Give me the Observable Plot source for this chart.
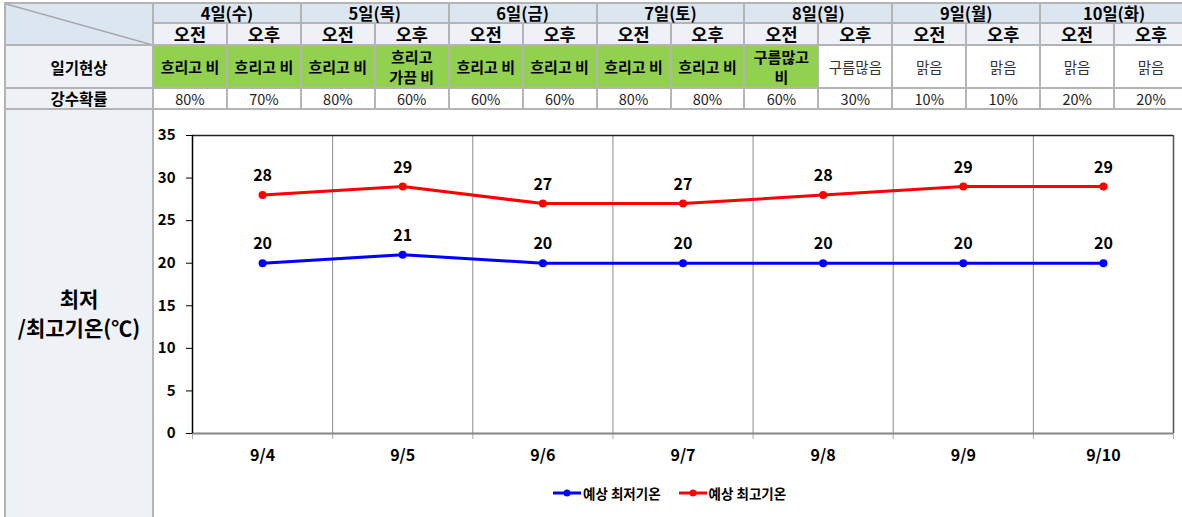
<!DOCTYPE html>
<html><head><meta charset="utf-8">
<script src="https://cdn.jsdelivr.net/npm/d3@7"></script>
<script src="https://cdn.jsdelivr.net/npm/@observablehq/plot@0.6"></script>
<style>
html,body{margin:0;padding:0;background:#fff;width:1182px;height:517px;overflow:hidden;}
body{position:relative;font-family:"Noto Sans CJK KR","Noto Sans",sans-serif;color:#000;}
.c{position:absolute;box-sizing:border-box;display:flex;align-items:center;justify-content:center;text-align:center;border-right:2px solid #b4b4b4;border-bottom:2px solid #b4b4b4;white-space:pre;line-height:20px;}
.c span{display:block;}
#chart{position:absolute;left:153px;top:109px;}
#legend{position:absolute;left:553px;top:483px;display:flex;align-items:center;font-size:13.5px;font-weight:bold;}
#legend span{display:flex;align-items:center;margin-right:18px;}
</style></head><body>
<div id="table"></div>
<div id="chart"></div>
<div id="legend"></div>
<script>
const dates = ["9/4","9/5","9/6","9/7","9/8","9/9","9/10"];
const dayHeaders = ["4일(수)","5일(목)","6일(금)","7일(토)","8일(일)","9일(월)","10일(화)"];
const halfLabels = ["오전","오후"];
const weather = ["흐리고 비","흐리고 비","흐리고 비","흐리고\n가끔 비","흐리고 비","흐리고 비","흐리고 비","흐리고 비","구름많고\n비","구름많음","맑음","맑음","맑음","맑음"];
const rainy = [true,true,true,true,true,true,true,true,true,false,false,false,false,false];
const precip = [80,70,80,60,60,60,80,80,60,30,10,10,20,20];
const rowLabels = ["일기현상","강수확률"];
const chartLabel = "최저\n/최고기온(℃)";
const minTemp = [20,21,20,20,20,20,20];
const maxTemp = [28,29,27,27,28,29,29];
const seriesNames = ["예상 최저기온","예상 최고기온"];
const seriesColors = ["#0000ff","#ff0000"];

// ---- table ----
const T = document.getElementById("table");
const colX = i => 153 + i * 73.93;
const rowsY = [3, 23, 45, 88, 109, 560];
function cell(b0, a0, b1, a1, text, st) {
  const d = document.createElement("div");
  d.className = "c";
  d.style.left = (b0 + 1) + "px"; d.style.top = (a0 + 1) + "px";
  d.style.width = (b1 - b0) + "px"; d.style.height = (a1 - a0) + "px";
  if (text) { const s = document.createElement("span"); s.textContent = text; d.appendChild(s); }
  Object.assign(d.style, st || {});
  T.appendChild(d);
  return d;
}
// outer top/left border
const ob = document.createElement("div");
Object.assign(ob.style, {position:"absolute", left:"4px", top:"2px", width:"1200px", height:"540px", borderTop:"2px solid #b4b4b4", borderLeft:"2px solid #b4b4b4", boxSizing:"border-box"});
T.appendChild(ob);
// top-left corner with diagonal
const tl = cell(5, rowsY[0], colX(0), rowsY[2], "", {background:"#dce6f1", overflow:"hidden"});
tl.innerHTML = '<svg width="148" height="44" style="position:absolute;left:0;top:0"><line x1="0" y1="0" x2="147" y2="41" stroke="#a6a6a6" stroke-width="1.5"/></svg>';
dayHeaders.forEach((h, i) => cell(colX(2*i), rowsY[0], colX(2*i+2), rowsY[1], h, {background:"#dce6f1", fontWeight:"bold", fontSize:"16.5px", lineHeight:"18px"}));
for (let j = 0; j < 14; j++) {
  cell(colX(j), rowsY[1], colX(j+1), rowsY[2], halfLabels[j%2], {background:"#eef2f7", fontWeight:"bold", fontSize:"17.5px", lineHeight:"20px"});
  cell(colX(j), rowsY[2], colX(j+1), rowsY[3], weather[j], rainy[j] ? {background:"#92d050", fontWeight:"bold", fontSize:"15px"} : {background:"#fff", fontSize:"14.5px", color:"#333"});
  cell(colX(j), rowsY[3], colX(j+1), rowsY[4], precip[j] + "%", {background:"#fff", fontSize:"14.5px", color:"#222", lineHeight:"19px"});
}
cell(5, rowsY[2], colX(0), rowsY[3], rowLabels[0], {background:"#eef2f7", fontWeight:"bold", fontSize:"15.5px"});
cell(5, rowsY[3], colX(0), rowsY[4], rowLabels[1], {background:"#eef2f7", fontWeight:"bold", fontSize:"15.5px", lineHeight:"19px"});
cell(5, rowsY[4], colX(0), rowsY[5], chartLabel, {background:"#eef2f7", fontWeight:"bold", fontSize:"21px", lineHeight:"29px", alignItems:"flex-start", paddingTop:"174px"});

// ---- chart ----
const n = dates.length;
const idx = d3.range(n);
const rows = idx.flatMap(i => [
  {i, v: minTemp[i], s: seriesNames[0]},
  {i, v: maxTemp[i], s: seriesNames[1]}
]);
const chart = Plot.plot({
  width: 1029, height: 361,
  marginLeft: 39, marginRight: 9, marginTop: 26, marginBottom: 37,
  x: {type: "linear", domain: [-0.5, n - 0.5]},
  y: {domain: [0, 35]},
  color: {domain: seriesNames, range: seriesColors},
  style: {fontFamily: "'Noto Sans CJK KR','Noto Sans',sans-serif", fontSize: "15px", color: "#000", background: "transparent", overflow: "visible"},
  marks: [
    Plot.ruleX(d3.range(1, n), {x: d => d - 0.5, stroke: "#8c8c8c", strokeWidth: 1}),
    Plot.ruleY([35], {stroke: "#222", strokeWidth: 1.5}),
    Plot.ruleX([n - 0.5], {stroke: "#555", strokeWidth: 1.5}),
    Plot.axisX({ticks: d3.range(n + 1).map(i => i - 0.5), tickSize: 6, tickFormat: () => "", stroke: "#aaa", label: null}),
    Plot.ruleY([0], {stroke: "#868686", strokeWidth: 2}),
    Plot.ruleX([-0.5], {stroke: "#000", strokeWidth: 1.5}),
    Plot.axisY({ticks: d3.range(0, 36, 5), tickSize: 6, tickPadding: 11, fontWeight: "bold", fontSize: 15, stroke: "#000", label: null}),
    Plot.axisX({ticks: idx, tickSize: 0, tickPadding: 16, tickFormat: i => dates[i], fontWeight: "bold", fontSize: 16, label: null}),
    Plot.line(rows, {x: "i", y: "v", z: "s", stroke: "s", strokeWidth: 3}),
    Plot.dot(rows, {x: "i", y: "v", fill: "s", r: 4}),
    Plot.text(rows, {x: "i", y: "v", text: d => String(d.v), dy: -19, fontWeight: "bold", fontSize: 16, fill: "#000"})
  ]
});
document.getElementById("chart").appendChild(chart);

// ---- legend ----
const L = document.getElementById("legend");
seriesNames.forEach((name, k) => {
  const s = document.createElement("span");
  s.innerHTML = `<svg width="28" height="10" style="margin-right:2px"><line x1="0" y1="5" x2="28" y2="5" stroke="${seriesColors[k]}" stroke-width="3"/><circle cx="14" cy="5" r="3.5" fill="${seriesColors[k]}"/></svg>`;
  s.appendChild(document.createTextNode(name));
  L.appendChild(s);
});
</script>
</body></html>
